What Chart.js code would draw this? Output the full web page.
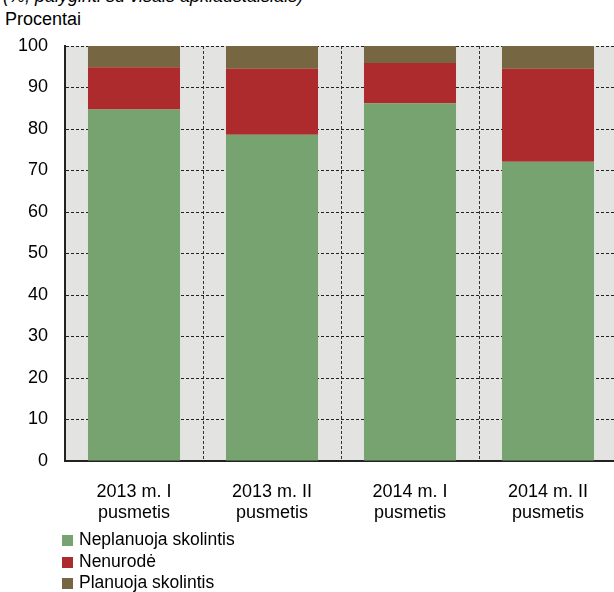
<!DOCTYPE html>
<html>
<head>
<meta charset="utf-8">
<script src="https://cdn.jsdelivr.net/npm/chart.js@4.4.1/dist/chart.umd.min.js"></script>
<style>
  body { margin: 0; overflow: hidden; background: #fff; font-family: 'Liberation Sans', Arial, sans-serif; }
  #wrap { position: relative; width: 614px; height: 592px; overflow: hidden; }
  #note { position: absolute; left: 3px; top: -14px; font-size: 18px; font-style: italic; white-space: nowrap; color: #000; }
  #unit { position: absolute; left: 5px; top: 9px; font-size: 18px; color: #000; }
  canvas { position: absolute; left: 0; top: 0; }
  #legend { position: absolute; left: 62px; top: 529px; font-size: 17.5px; color: #000; }
  #legend div { height: 21.5px; line-height: 21.5px; white-space: nowrap; }
  #legend span { display: inline-block; width: 11px; height: 11px; margin-right: 6px; vertical-align: -1px; }
</style>
</head>
<body>
<div id="wrap">
  <div id="note">(%; palyginti su visais apklaustaisiais)</div>
  <div id="unit">Procentai</div>
  <canvas id="chart" width="620" height="592"></canvas>
  <div id="legend"></div>
</div>
<script>
// Categories (half-years) and series values, in percent
const periods = [['2013 m. I', 'pusmetis'], ['2013 m. II', 'pusmetis'], ['2014 m. I', 'pusmetis'], ['2014 m. II', 'pusmetis']];
const seriesNames = ['Neplanuoja skolintis', 'Nenurodė', 'Planuoja skolintis'];
const notPlanning = [84.7, 78.6, 86.2, 72.1];
const notSpecified = [10.2, 15.9, 9.7, 22.4];
const planning = [5.1, 5.5, 4.1, 5.5];
const seriesColors = ['#77a370', '#ae2b2d', '#766742'];

const fontFamily = "'Liberation Sans', Arial, sans-serif";

// fill the plot area with grey before anything is drawn
const plotBackground = {
  id: 'plotBackground',
  beforeDraw(chart) {
    const { ctx, chartArea } = chart;
    ctx.save();
    ctx.fillStyle = '#e3e4e1';
    ctx.fillRect(chartArea.left, chartArea.top, chartArea.right - chartArea.left, chartArea.bottom - chartArea.top);
    ctx.restore();
  }
};

const chart = new Chart(document.getElementById('chart').getContext('2d'), {
  type: 'bar',
  data: {
    labels: periods,
    datasets: [notPlanning, notSpecified, planning].map((vals, i) => ({
      label: seriesNames[i],
      data: vals,
      backgroundColor: seriesColors[i],
      borderWidth: 0,
      barPercentage: 0.667,
      categoryPercentage: 1
    }))
  },
  options: {
    responsive: false,
    animation: false,
    layout: { padding: { top: 46, right: 3, left: 0, bottom: 0 } },
    plugins: {
      legend: { display: false },
      tooltip: { enabled: false }
    },
    scales: {
      x: {
        stacked: true,
        offset: true,
        afterFit(scale) { scale.height = 131; },
        ticks: { color: '#000', font: { family: fontFamily, size: 18, lineHeight: 1.2 }, padding: 20, maxRotation: 0 },
        grid: { color: '#333', lineWidth: 1, drawTicks: false, offset: true },
        border: { display: true, color: '#222', width: 2, dash: [3, 2] }
      },
      y: {
        stacked: true,
        min: 0,
        max: 100,
        afterFit(scale) { scale.width = 65; },
        ticks: { stepSize: 10, color: '#000', font: { family: fontFamily, size: 18 }, padding: 17 },
        grid: { color: '#222', lineWidth: 1, drawTicks: false },
        border: { display: true, color: '#222', width: 2, dash: [3, 2] }
      }
    }
  },
  plugins: [plotBackground]
});

// simple vertical legend under the chart
const legendDiv = document.getElementById('legend');
chart.data.datasets.forEach(ds => {
  const row = document.createElement('div');
  row.innerHTML = '<span style="background:' + ds.backgroundColor + '"></span>' + ds.label;
  legendDiv.appendChild(row);
});
</script>
</body>
</html>
